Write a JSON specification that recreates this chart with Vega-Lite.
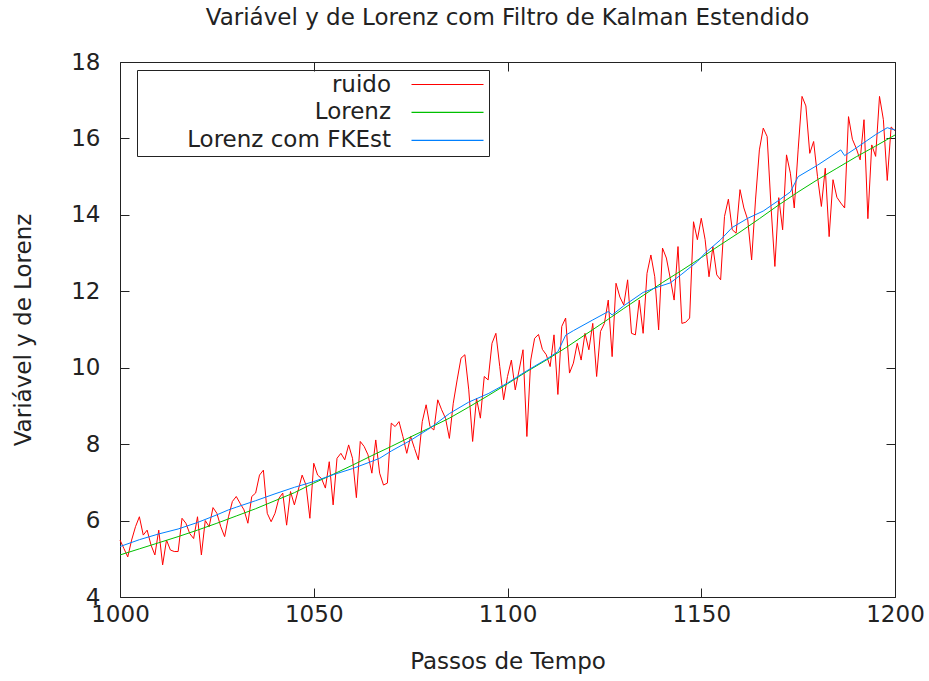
{
  "$schema": "https://vega.github.io/schema/vega-lite/v6.json",
  "width": 775,
  "height": 535,
  "autosize": {"type": "none"},
  "padding": {"left": 120, "top": 62, "right": 34, "bottom": 84},
  "background": "white",
  "title": {"text": "Variável y de Lorenz com Filtro de Kalman Estendido", "font": "DejaVu Sans", "fontSize": 23, "fontWeight": "normal", "color": "#222", "anchor": "middle", "baseline": "alphabetic", "offset": 3},
  "config": {
    "view": {"stroke": null},
    "axis": {"labelFont": "DejaVu Sans", "labelFontSize": 23, "labelColor": "#222", "titleFont": "DejaVu Sans", "titleFontSize": 23, "titleFontWeight": "normal", "titleColor": "#222", "grid": false, "domainColor": "#222", "tickColor": "#222", "tickSize": -9, "domainWidth": 1, "tickWidth": 1}
  },
  "data": {"values": [
    {"t":1000,"s":"ruido","v":5.49},{"t":1001,"s":"ruido","v":5.27},{"t":1002,"s":"ruido","v":5.05},{"t":1003,"s":"ruido","v":5.49},{"t":1004,"s":"ruido","v":5.84},{"t":1005,"s":"ruido","v":6.1},{"t":1006,"s":"ruido","v":5.62},{"t":1007,"s":"ruido","v":5.75},{"t":1008,"s":"ruido","v":5.36},{"t":1009,"s":"ruido","v":5.1},
    {"t":1010,"s":"ruido","v":5.75},{"t":1011,"s":"ruido","v":4.84},{"t":1012,"s":"ruido","v":5.49},{"t":1013,"s":"ruido","v":5.23},{"t":1014,"s":"ruido","v":5.19},{"t":1015,"s":"ruido","v":5.19},{"t":1016,"s":"ruido","v":6.06},{"t":1017,"s":"ruido","v":5.93},{"t":1018,"s":"ruido","v":5.66},{"t":1019,"s":"ruido","v":5.53},
    {"t":1020,"s":"ruido","v":6.1},{"t":1021,"s":"ruido","v":5.1},{"t":1022,"s":"ruido","v":6.0},{"t":1023,"s":"ruido","v":5.84},{"t":1024,"s":"ruido","v":6.34},{"t":1025,"s":"ruido","v":6.19},{"t":1026,"s":"ruido","v":5.84},{"t":1027,"s":"ruido","v":5.58},{"t":1028,"s":"ruido","v":6.1},{"t":1029,"s":"ruido","v":6.5},
    {"t":1030,"s":"ruido","v":6.63},{"t":1031,"s":"ruido","v":6.45},{"t":1032,"s":"ruido","v":6.28},{"t":1033,"s":"ruido","v":5.93},{"t":1034,"s":"ruido","v":6.63},{"t":1035,"s":"ruido","v":6.72},{"t":1036,"s":"ruido","v":7.19},{"t":1037,"s":"ruido","v":7.32},{"t":1038,"s":"ruido","v":6.19},{"t":1039,"s":"ruido","v":5.97},
    {"t":1040,"s":"ruido","v":6.19},{"t":1041,"s":"ruido","v":6.58},{"t":1042,"s":"ruido","v":6.72},{"t":1043,"s":"ruido","v":5.88},{"t":1044,"s":"ruido","v":6.76},{"t":1045,"s":"ruido","v":6.41},{"t":1046,"s":"ruido","v":6.8},{"t":1047,"s":"ruido","v":7.19},{"t":1048,"s":"ruido","v":6.93},{"t":1049,"s":"ruido","v":6.06},
    {"t":1050,"s":"ruido","v":7.5},{"t":1051,"s":"ruido","v":7.19},{"t":1052,"s":"ruido","v":7.1},{"t":1053,"s":"ruido","v":6.85},{"t":1054,"s":"ruido","v":7.54},{"t":1055,"s":"ruido","v":6.41},{"t":1056,"s":"ruido","v":7.63},{"t":1057,"s":"ruido","v":7.76},{"t":1058,"s":"ruido","v":7.59},{"t":1059,"s":"ruido","v":7.98},
    {"t":1060,"s":"ruido","v":7.63},{"t":1061,"s":"ruido","v":6.6},{"t":1062,"s":"ruido","v":8.07},{"t":1063,"s":"ruido","v":7.94},{"t":1064,"s":"ruido","v":7.72},{"t":1065,"s":"ruido","v":7.24},{"t":1066,"s":"ruido","v":8.11},{"t":1067,"s":"ruido","v":7.24},{"t":1068,"s":"ruido","v":6.93},{"t":1069,"s":"ruido","v":6.98},
    {"t":1070,"s":"ruido","v":8.55},{"t":1071,"s":"ruido","v":8.46},{"t":1072,"s":"ruido","v":8.59},{"t":1073,"s":"ruido","v":8.2},{"t":1074,"s":"ruido","v":7.76},{"t":1075,"s":"ruido","v":8.2},{"t":1076,"s":"ruido","v":7.89},{"t":1077,"s":"ruido","v":7.59},{"t":1078,"s":"ruido","v":8.59},{"t":1079,"s":"ruido","v":9.03},
    {"t":1080,"s":"ruido","v":8.46},{"t":1081,"s":"ruido","v":8.37},{"t":1082,"s":"ruido","v":9.16},{"t":1083,"s":"ruido","v":8.9},{"t":1084,"s":"ruido","v":8.68},{"t":1085,"s":"ruido","v":8.15},{"t":1086,"s":"ruido","v":9.07},{"t":1087,"s":"ruido","v":9.68},{"t":1088,"s":"ruido","v":10.25},{"t":1089,"s":"ruido","v":10.34},
    {"t":1090,"s":"ruido","v":9.42},{"t":1091,"s":"ruido","v":8.07},{"t":1092,"s":"ruido","v":9.2},{"t":1093,"s":"ruido","v":8.68},{"t":1094,"s":"ruido","v":9.77},{"t":1095,"s":"ruido","v":9.68},{"t":1096,"s":"ruido","v":10.64},{"t":1097,"s":"ruido","v":10.9},{"t":1098,"s":"ruido","v":10.03},{"t":1099,"s":"ruido","v":9.16},
    {"t":1100,"s":"ruido","v":9.77},{"t":1101,"s":"ruido","v":10.2},{"t":1102,"s":"ruido","v":9.42},{"t":1103,"s":"ruido","v":9.94},{"t":1104,"s":"ruido","v":10.47},{"t":1105,"s":"ruido","v":8.2},{"t":1106,"s":"ruido","v":10.2},{"t":1107,"s":"ruido","v":10.77},{"t":1108,"s":"ruido","v":10.87},{"t":1109,"s":"ruido","v":10.48},
    {"t":1110,"s":"ruido","v":10.34},{"t":1111,"s":"ruido","v":10.03},{"t":1112,"s":"ruido","v":10.86},{"t":1113,"s":"ruido","v":9.3},{"t":1114,"s":"ruido","v":11.08},{"t":1115,"s":"ruido","v":11.3},{"t":1116,"s":"ruido","v":9.86},{"t":1117,"s":"ruido","v":10.12},{"t":1118,"s":"ruido","v":10.64},{"t":1119,"s":"ruido","v":10.2},
    {"t":1120,"s":"ruido","v":10.9},{"t":1121,"s":"ruido","v":10.47},{"t":1122,"s":"ruido","v":11.16},{"t":1123,"s":"ruido","v":9.77},{"t":1124,"s":"ruido","v":10.95},{"t":1125,"s":"ruido","v":11.16},{"t":1126,"s":"ruido","v":11.77},{"t":1127,"s":"ruido","v":10.29},{"t":1128,"s":"ruido","v":12.21},{"t":1129,"s":"ruido","v":11.85},
    {"t":1130,"s":"ruido","v":11.64},{"t":1131,"s":"ruido","v":12.3},{"t":1132,"s":"ruido","v":10.9},{"t":1133,"s":"ruido","v":10.86},{"t":1134,"s":"ruido","v":11.77},{"t":1135,"s":"ruido","v":10.9},{"t":1136,"s":"ruido","v":12.47},{"t":1137,"s":"ruido","v":12.95},{"t":1138,"s":"ruido","v":12.38},{"t":1139,"s":"ruido","v":10.99},
    {"t":1140,"s":"ruido","v":13.13},{"t":1141,"s":"ruido","v":12.87},{"t":1142,"s":"ruido","v":12.34},{"t":1143,"s":"ruido","v":11.77},{"t":1144,"s":"ruido","v":13.17},{"t":1145,"s":"ruido","v":11.16},{"t":1146,"s":"ruido","v":11.19},{"t":1147,"s":"ruido","v":11.3},{"t":1148,"s":"ruido","v":13.82},{"t":1149,"s":"ruido","v":13.35},
    {"t":1150,"s":"ruido","v":13.91},{"t":1151,"s":"ruido","v":13.35},{"t":1152,"s":"ruido","v":12.38},{"t":1153,"s":"ruido","v":13.17},{"t":1154,"s":"ruido","v":12.43},{"t":1155,"s":"ruido","v":12.3},{"t":1156,"s":"ruido","v":13.96},{"t":1157,"s":"ruido","v":14.41},{"t":1158,"s":"ruido","v":13.61},{"t":1159,"s":"ruido","v":13.52},
    {"t":1160,"s":"ruido","v":14.66},{"t":1161,"s":"ruido","v":14.18},{"t":1162,"s":"ruido","v":13.87},{"t":1163,"s":"ruido","v":12.82},{"t":1164,"s":"ruido","v":14.39},{"t":1165,"s":"ruido","v":15.7},{"t":1166,"s":"ruido","v":16.27},{"t":1167,"s":"ruido","v":16.05},{"t":1168,"s":"ruido","v":14.22},{"t":1169,"s":"ruido","v":12.65},
    {"t":1170,"s":"ruido","v":14.45},{"t":1171,"s":"ruido","v":13.61},{"t":1172,"s":"ruido","v":15.57},{"t":1173,"s":"ruido","v":15.09},{"t":1174,"s":"ruido","v":14.18},{"t":1175,"s":"ruido","v":15.7},{"t":1176,"s":"ruido","v":17.1},{"t":1177,"s":"ruido","v":16.85},{"t":1178,"s":"ruido","v":15.61},{"t":1179,"s":"ruido","v":15.92},
    {"t":1180,"s":"ruido","v":15.0},{"t":1181,"s":"ruido","v":14.22},{"t":1182,"s":"ruido","v":15.22},{"t":1183,"s":"ruido","v":13.43},{"t":1184,"s":"ruido","v":14.92},{"t":1185,"s":"ruido","v":14.46},{"t":1186,"s":"ruido","v":14.31},{"t":1187,"s":"ruido","v":14.18},{"t":1188,"s":"ruido","v":16.57},{"t":1189,"s":"ruido","v":15.98},
    {"t":1190,"s":"ruido","v":15.74},{"t":1191,"s":"ruido","v":15.44},{"t":1192,"s":"ruido","v":16.49},{"t":1193,"s":"ruido","v":13.9},{"t":1194,"s":"ruido","v":15.83},{"t":1195,"s":"ruido","v":15.53},{"t":1196,"s":"ruido","v":17.1},{"t":1197,"s":"ruido","v":16.49},{"t":1198,"s":"ruido","v":14.9},{"t":1199,"s":"ruido","v":16.3},
    {"t":1200,"s":"ruido","v":16.2},
    {"t":1000,"s":"Lorenz","v":5.1},{"t":1005,"s":"Lorenz","v":5.26},{"t":1010,"s":"Lorenz","v":5.42},{"t":1015,"s":"Lorenz","v":5.58},{"t":1020,"s":"Lorenz","v":5.75},{"t":1025,"s":"Lorenz","v":5.93},{"t":1030,"s":"Lorenz","v":6.12},{"t":1035,"s":"Lorenz","v":6.31},{"t":1040,"s":"Lorenz","v":6.52},{"t":1045,"s":"Lorenz","v":6.73},
    {"t":1050,"s":"Lorenz","v":6.98},{"t":1055,"s":"Lorenz","v":7.21},{"t":1060,"s":"Lorenz","v":7.45},{"t":1065,"s":"Lorenz","v":7.7},{"t":1070,"s":"Lorenz","v":7.94},{"t":1075,"s":"Lorenz","v":8.19},{"t":1080,"s":"Lorenz","v":8.43},{"t":1085,"s":"Lorenz","v":8.68},{"t":1090,"s":"Lorenz","v":8.97},{"t":1095,"s":"Lorenz","v":9.27},
    {"t":1100,"s":"Lorenz","v":9.58},{"t":1105,"s":"Lorenz","v":9.9},{"t":1110,"s":"Lorenz","v":10.2},{"t":1115,"s":"Lorenz","v":10.52},{"t":1120,"s":"Lorenz","v":10.86},{"t":1125,"s":"Lorenz","v":11.2},{"t":1130,"s":"Lorenz","v":11.55},{"t":1135,"s":"Lorenz","v":11.89},{"t":1140,"s":"Lorenz","v":12.23},{"t":1145,"s":"Lorenz","v":12.55},
    {"t":1150,"s":"Lorenz","v":12.88},{"t":1155,"s":"Lorenz","v":13.22},{"t":1160,"s":"Lorenz","v":13.55},{"t":1165,"s":"Lorenz","v":13.9},{"t":1170,"s":"Lorenz","v":14.26},{"t":1175,"s":"Lorenz","v":14.6},{"t":1180,"s":"Lorenz","v":14.92},{"t":1185,"s":"Lorenz","v":15.22},{"t":1190,"s":"Lorenz","v":15.52},{"t":1195,"s":"Lorenz","v":15.8},
    {"t":1200,"s":"Lorenz","v":16.09},
    {"t":1000,"s":"Lorenz com FKEst","v":5.32},{"t":1005,"s":"Lorenz com FKEst","v":5.5},{"t":1010,"s":"Lorenz com FKEst","v":5.65},{"t":1015,"s":"Lorenz com FKEst","v":5.78},{"t":1020,"s":"Lorenz com FKEst","v":5.95},{"t":1025,"s":"Lorenz com FKEst","v":6.15},{"t":1028,"s":"Lorenz com FKEst","v":6.28},{"t":1030,"s":"Lorenz com FKEst","v":6.35},{"t":1035,"s":"Lorenz com FKEst","v":6.52},{"t":1040,"s":"Lorenz com FKEst","v":6.7},
    {"t":1045,"s":"Lorenz com FKEst","v":6.87},{"t":1050,"s":"Lorenz com FKEst","v":7.02},{"t":1055,"s":"Lorenz com FKEst","v":7.2},{"t":1060,"s":"Lorenz com FKEst","v":7.36},{"t":1065,"s":"Lorenz com FKEst","v":7.55},{"t":1067,"s":"Lorenz com FKEst","v":7.63},{"t":1070,"s":"Lorenz com FKEst","v":7.82},{"t":1075,"s":"Lorenz com FKEst","v":8.1},{"t":1080,"s":"Lorenz com FKEst","v":8.42},{"t":1085,"s":"Lorenz com FKEst","v":8.8},
    {"t":1090,"s":"Lorenz com FKEst","v":9.1},{"t":1095,"s":"Lorenz com FKEst","v":9.32},{"t":1100,"s":"Lorenz com FKEst","v":9.6},{"t":1105,"s":"Lorenz com FKEst","v":9.92},{"t":1110,"s":"Lorenz com FKEst","v":10.22},{"t":1113,"s":"Lorenz com FKEst","v":10.42},{"t":1115,"s":"Lorenz com FKEst","v":10.85},{"t":1117,"s":"Lorenz com FKEst","v":10.97},{"t":1122,"s":"Lorenz com FKEst","v":11.25},{"t":1126,"s":"Lorenz com FKEst","v":11.47},
    {"t":1127,"s":"Lorenz com FKEst","v":11.38},{"t":1130,"s":"Lorenz com FKEst","v":11.62},{"t":1135,"s":"Lorenz com FKEst","v":11.97},{"t":1139,"s":"Lorenz com FKEst","v":12.12},{"t":1142,"s":"Lorenz com FKEst","v":12.22},{"t":1145,"s":"Lorenz com FKEst","v":12.45},{"t":1149,"s":"Lorenz com FKEst","v":12.78},{"t":1151,"s":"Lorenz com FKEst","v":13.0},{"t":1155,"s":"Lorenz com FKEst","v":13.35},{"t":1158,"s":"Lorenz com FKEst","v":13.67},
    {"t":1162,"s":"Lorenz com FKEst","v":13.91},{"t":1166,"s":"Lorenz com FKEst","v":14.1},{"t":1170,"s":"Lorenz com FKEst","v":14.38},{"t":1173,"s":"Lorenz com FKEst","v":14.6},{"t":1175,"s":"Lorenz com FKEst","v":15.0},{"t":1180,"s":"Lorenz com FKEst","v":15.3},{"t":1186,"s":"Lorenz com FKEst","v":15.7},{"t":1187,"s":"Lorenz com FKEst","v":15.55},{"t":1190,"s":"Lorenz com FKEst","v":15.75},{"t":1195,"s":"Lorenz com FKEst","v":16.1},
    {"t":1198,"s":"Lorenz com FKEst","v":16.28},{"t":1200,"s":"Lorenz com FKEst","v":16.22}
  ]},
  "layer": [
    {
      "mark": {"type": "line", "strokeWidth": 1, "interpolate": "linear"},
      "encoding": {
        "x": {"field": "t", "type": "quantitative", "scale": {"domain": [1000, 1200], "nice": false, "zero": false},
              "axis": {"orient": "bottom", "values": [1000, 1050, 1100, 1150, 1200], "format": "d", "title": "Passos de Tempo", "labelPadding": 15, "titlePadding": 24, "labelFlush": false}},
        "y": {"field": "v", "type": "quantitative", "scale": {"domain": [4, 18], "nice": false, "zero": false},
              "axis": {"orient": "left", "values": [4, 6, 8, 10, 12, 14, 16, 18], "format": "d", "title": "Variável y de Lorenz", "labelPadding": 29, "titlePadding": 35}},
        "color": {"field": "s", "type": "nominal", "sort": null,
                  "scale": {"domain": ["ruido", "Lorenz", "Lorenz com FKEst"], "range": ["#ff0000", "#00c000", "#0080ff"]},
                  "legend": {"orient": "none", "legendX": 17, "legendY": 8, "title": null, "strokeColor": "#222", "padding": 3,
                             "symbolType": "M-4,0H4", "symbolSize": 324, "symbolStrokeWidth": 1.2,
                             "labelAlign": "right", "labelOffset": -68, "symbolOffset": 296, "rowPadding": 3.9,
                             "labelFont": "DejaVu Sans", "labelFontSize": 23, "labelColor": "#222", "labelLimit": 400}}
      }
    },
    {
      "mark": {"type": "point", "opacity": 0},
      "encoding": {
        "x": {"field": "t", "type": "quantitative", "axis": {"orient": "top", "values": [1000, 1050, 1100, 1150, 1200], "labels": false, "title": null}},
        "y": {"field": "v", "type": "quantitative", "axis": {"orient": "right", "values": [4, 6, 8, 10, 12, 14, 16, 18], "labels": false, "title": null}}
      }
    }
  ],
  "resolve": {"axis": {"x": "independent", "y": "independent"}}
}
